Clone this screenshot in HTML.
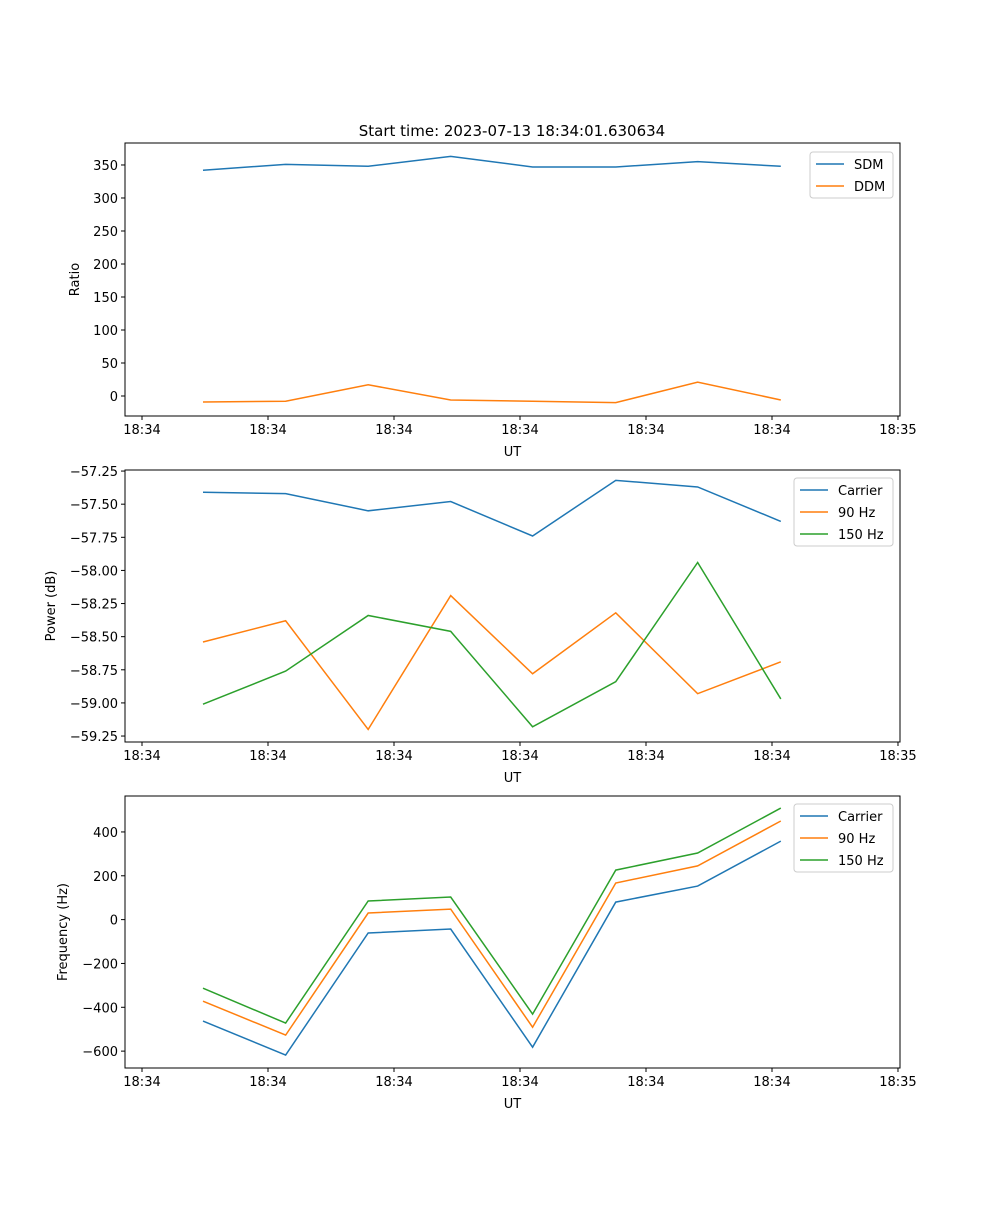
<!DOCTYPE html>
<html><head><meta charset="utf-8"><style>
body{margin:0;background:#fff}
svg{font-family:"DejaVu Sans","Liberation Sans",sans-serif}
</style></head><body>
<svg id="fig" width="1000" height="1200" xmlns="http://www.w3.org/2000/svg"></svg>
<script>
const times = [4.84, 11.4, 17.95, 24.5, 31.0, 37.6, 44.1, 50.7];
const xTickVals = [0, 10, 20, 30, 40, 50, 60];
const xTickLabels = ["18:34","18:34","18:34","18:34","18:34","18:34","18:35"];
const sdm = [342, 351, 348, 363, 347, 347, 355, 348];
const ddm = [-9, -8, 17, -6, -8, -10, 21, -6];
const powCarrier = [-57.41, -57.42, -57.55, -57.48, -57.74, -57.32, -57.37, -57.63];
const pow90 = [-58.54, -58.38, -59.20, -58.19, -58.78, -58.32, -58.93, -58.69];
const pow150 = [-59.01, -58.76, -58.34, -58.46, -59.18, -58.84, -57.94, -58.97];
const freqCarrier = [-463, -618, -61, -43, -582, 80, 153, 358];
const freq90 = [-372, -527, 30, 48, -491, 167, 245, 450];
const freq150 = [-313, -472, 85, 103, -431, 226, 304, 509];
const ratioTicks = [0, 50, 100, 150, 200, 250, 300, 350];
const powTicks = [-59.25, -59.00, -58.75, -58.50, -58.25, -58.00, -57.75, -57.50, -57.25];
const freqTicks = [-600, -400, -200, 0, 200, 400];

const NS = "http://www.w3.org/2000/svg";
const svg = document.getElementById("fig");
function el(tag, attrs, parent, text){
  const e = document.createElementNS(NS, tag);
  for (const k in attrs) e.setAttribute(k, attrs[k]);
  if (text !== undefined) e.textContent = text;
  (parent || svg).appendChild(e);
  return e;
}
const L = 125, R = 900, xmin = -1.35, xmax = 60.16;
const sx = v => L + (v - xmin) / (xmax - xmin) * (R - L);

function panel(name, top, bot, ymin, ymax, yticks, fmt, ylabel, ylabelX, series, legend){
  const g = el("g", {});
  
  
  const sy = v => bot - (v - ymin) / (ymax - ymin) * (bot - top);
  const lines = series.map(s => {
    const p = el("polyline", {points: times.map((t, i) => sx(t) + "," + sy(s.vals[i])).join(" "), fill: "none", stroke: s.color, "stroke-width": 1.5}, g);
    
    
  });
  const frame = el("rect", {x: L, y: top, width: R - L, height: bot - top, fill: "none", stroke: "#000", "stroke-width": 1}, g);
  
  
  xTickVals.forEach((v, i) => {
    const x = sx(v);
    el("line", {x1: x, x2: x, y1: bot, y2: bot + 4, stroke: "#000"}, g);
    const t = el("text", {x: x, y: bot + 18, "text-anchor": "middle", "font-size": 13}, g, xTickLabels[i]);
    
    
  });
  const xl = el("text", {x: (L + R) / 2, y: bot + 40, "text-anchor": "middle", "font-size": 13}, g, "UT");
  
  
  yticks.forEach(v => {
    const y = sy(v);
    el("line", {x1: L - 4, x2: L, y1: y, y2: y, stroke: "#000"}, g);
    const t = el("text", {x: L - 7, y: y + 5, "text-anchor": "end", "font-size": 13}, g, fmt(v));
    
    
  });
  const yl = el("text", {x: ylabelX, y: (top + bot) / 2, "text-anchor": "middle", "font-size": 13, transform: "rotate(-90 " + ylabelX + " " + (top + bot) / 2 + ")"}, g, ylabel);
  
  
  const lg = el("g", {}, g);
  
  
  el("rect", {x: legend.x, y: legend.y, width: legend.w, height: 22 * series.length + 2, rx: 3, fill: "#fff", stroke: "#ccc"}, lg);
  series.forEach((s, i) => {
    const yy = legend.y + 12 + 22 * i;
    el("line", {x1: legend.x + 6, x2: legend.x + 34, y1: yy, y2: yy, stroke: s.color, "stroke-width": 1.5}, lg);
    const t = el("text", {x: legend.x + 44, y: yy + 5, "font-size": 13}, lg, s.label);
    
    
  });
}
const B = "#1f77b4", O = "#ff7f0e", G = "#2ca02c";
const title = el("text", {x: 512, y: 136, "text-anchor": "middle", "font-size": 15}, svg, "Start time: 2023-07-13 18:34:01.630634");


panel("ratio", 143, 416, -30.3, 383.3, ratioTicks, v => String(v), "Ratio", 79,
  [{key: "sdm", label: "SDM", vals: sdm, color: B}, {key: "ddm", label: "DDM", vals: ddm, color: O}],
  {x: 810, y: 152, w: 83});
panel("power", 470, 742, -59.295, -57.242, powTicks, v => "\u2212" + Math.abs(v).toFixed(2), "Power (dB)", 55,
  [{key: "carrier", label: "Carrier", vals: powCarrier, color: B}, {key: "90hz", label: "90 Hz", vals: pow90, color: O}, {key: "150hz", label: "150 Hz", vals: pow150, color: G}],
  {x: 794, y: 478, w: 99});
panel("frequency", 796, 1068, -677, 564, freqTicks, v => v < 0 ? "\u2212" + Math.abs(v) : String(v), "Frequency (Hz)", 67,
  [{key: "carrier", label: "Carrier", vals: freqCarrier, color: B}, {key: "90hz", label: "90 Hz", vals: freq90, color: O}, {key: "150hz", label: "150 Hz", vals: freq150, color: G}],
  {x: 794, y: 804, w: 99});
</script>
</body></html>
